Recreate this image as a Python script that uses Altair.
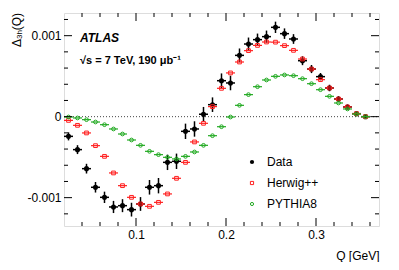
import altair as alt
import pandas as pd

# ---- data (y in units of 1e-3) ----
q = [0.025, 0.035, 0.045, 0.055, 0.065, 0.075, 0.085, 0.095, 0.105, 0.115,
     0.125, 0.135, 0.145, 0.155, 0.165, 0.175, 0.185, 0.195, 0.205, 0.215,
     0.225, 0.235, 0.245, 0.255, 0.265, 0.275, 0.285, 0.295, 0.305, 0.315,
     0.325, 0.335, 0.345, 0.355]
data_y = [-0.243, -0.407, -0.642, -0.872, -0.996, -1.115, -1.099, -1.148, -1.078, -0.872,
          -0.852, -0.564, -0.551, -0.181, -0.152, 0.030, 0.148, 0.444, 0.416, 0.757,
          0.897, 0.951, 0.988, 1.103, 1.025, 0.959, 0.691, 0.588, 0.494, 0.354,
          0.218, 0.120, 0.037, 0.000]
data_err = [0.050, 0.055, 0.060, 0.065, 0.070, 0.075, 0.080, 0.085, 0.085, 0.090,
            0.095, 0.095, 0.095, 0.095, 0.095, 0.090, 0.090, 0.090, 0.090, 0.085,
            0.080, 0.075, 0.075, 0.070, 0.065, 0.060, 0.055, 0.050, 0.045, 0.040,
            0.035, 0.030, 0.025, 0.020]
herwig_y = [-0.046, -0.107, -0.201, -0.358, -0.490, -0.695, -0.852, -0.996, -1.078, -1.107,
            -1.058, -0.954, -0.761, -0.564, -0.312, -0.082, 0.124, 0.350, 0.540, 0.675,
            0.815, 0.880, 0.922, 0.920, 0.877, 0.819, 0.712, 0.588, 0.457, 0.354,
            0.218, 0.120, 0.037, 0.000]
pythia_y = [-0.004, -0.016, -0.037, -0.066, -0.099, -0.152, -0.214, -0.288, -0.354, -0.428,
            -0.469, -0.502, -0.522, -0.490, -0.436, -0.354, -0.235, -0.124, -0.004, 0.140,
            0.272, 0.370, 0.453, 0.498, 0.515, 0.506, 0.469, 0.407, 0.333, 0.251,
            0.169, 0.095, 0.033, 0.000]
half_bin = 0.005

x_major = [0.1, 0.2, 0.3]
x_minor = [0.04, 0.06, 0.08, 0.12, 0.14, 0.16, 0.18, 0.22, 0.24, 0.26, 0.28, 0.32, 0.34, 0.36]
y_major = [-0.001, 0.0, 0.001]
y_minor = [-0.0012, -0.0008, -0.0006, -0.0004, -0.0002, 0.0002, 0.0004, 0.0006, 0.0008, 0.0012]

legend_labels = ["Data", "Herwig++", "PYTHIA8"]

# ---- build table ----
S = 1e-3
df = pd.DataFrame({
    "q": q,
    "lo": [v - half_bin for v in q],
    "hi": [v + half_bin for v in q],
    "d": [v * S for v in data_y],
    "dlo": [(v - e) * S for v, e in zip(data_y, data_err)],
    "dhi": [(v + e) * S for v, e in zip(data_y, data_err)],
    "h": [v * S for v in herwig_y],
    "p": [v * S for v in pythia_y],
})

W, H = 315, 213
FONT = "Liberation Sans"
RED = "#ff2020"
GREEN = "#22aa22"

xs = alt.Scale(domain=[0.02, 0.37], nice=False, zero=False)
ys = alt.Scale(domain=[-0.00135, 0.00128], nice=False, zero=False)

xaxis = alt.Axis(values=x_major, format=".1f", ticks=False, domain=False, grid=False,
                 labelFontSize=12, labelPadding=3, labelFont=FONT, labelColor="black",
                 title="Q [GeV]", titleAnchor="end", titleFontWeight="normal",
                 titleFontSize=12, titleFont=FONT, titlePadding=10, titleColor="black")
yaxis = alt.Axis(values=y_major,
                 labelExpr="datum.value > 0.0005 ? '0.001' : (datum.value < -0.0005 ? '-0.001' : '0')",
                 ticks=False, domain=False, grid=False, labelFontSize=12, labelPadding=3,
                 labelFont=FONT, labelColor="black", title=None)

base = alt.Chart(df)

# zero line
zero = alt.Chart(pd.DataFrame({"z": [0.0]})).mark_rule(
    color="#444", strokeDash=[1, 2], strokeWidth=1
).encode(y=alt.Y("z:Q", scale=ys, axis=yaxis), x=alt.value(0), x2=alt.value(W))

# data
d_v = base.mark_rule(color="black", strokeWidth=1.5).encode(
    x=alt.X("q:Q", scale=xs, axis=xaxis), y=alt.Y("dlo:Q", scale=ys, axis=yaxis), y2="dhi:Q")
d_h = base.mark_rule(color="black", strokeWidth=1.5).encode(
    x=alt.X("lo:Q", scale=xs), x2="hi:Q", y=alt.Y("d:Q", scale=ys))
d_p = base.mark_circle(color="black", size=26, opacity=1).encode(
    x=alt.X("q:Q", scale=xs), y=alt.Y("d:Q", scale=ys))

# herwig
h_h = base.mark_rule(color=RED, strokeWidth=1.2).encode(
    x=alt.X("lo:Q", scale=xs), x2="hi:Q", y=alt.Y("h:Q", scale=ys))
h_p = base.mark_point(shape="square", filled=False, color=RED, size=14, strokeWidth=1, opacity=1).encode(
    x=alt.X("q:Q", scale=xs), y=alt.Y("h:Q", scale=ys))

# pythia
p_h = base.mark_rule(color=GREEN, strokeWidth=1.2).encode(
    x=alt.X("lo:Q", scale=xs), x2="hi:Q", y=alt.Y("p:Q", scale=ys))
p_p = base.mark_point(shape="circle", filled=False, color=GREEN, size=14, strokeWidth=1, opacity=1).encode(
    x=alt.X("q:Q", scale=xs), y=alt.Y("p:Q", scale=ys))

# inward ticks on all four sides
def xticks(vals, length):
    t = alt.Chart(pd.DataFrame({"v": vals}))
    bot = t.mark_rule(color="black", strokeWidth=1).encode(
        x=alt.X("v:Q", scale=xs), y=alt.value(H), y2=alt.value(H - length))
    top = t.mark_rule(color="black", strokeWidth=1).encode(
        x=alt.X("v:Q", scale=xs), y=alt.value(0), y2=alt.value(length))
    return [bot, top]

def yticks(vals, length):
    t = alt.Chart(pd.DataFrame({"v": vals}))
    left = t.mark_rule(color="black", strokeWidth=1).encode(
        y=alt.Y("v:Q", scale=ys), x=alt.value(0), x2=alt.value(length))
    right = t.mark_rule(color="black", strokeWidth=1).encode(
        y=alt.Y("v:Q", scale=ys), x=alt.value(W), x2=alt.value(W - length))
    return [left, right]

ticks = xticks(x_major, 8) + xticks(x_minor, 4) + yticks(y_major, 8) + yticks(y_minor, 4)

# annotations
def txt(s, x, y, size=12, weight="normal", style="normal", align="left", angle=0, color="black"):
    return alt.Chart(pd.DataFrame({"t": [s]})).mark_text(
        align=align, baseline="middle", fontSize=size, fontWeight=weight, fontStyle=style,
        font=FONT, angle=angle, color=color
    ).encode(text="t:N", x=alt.value(x), y=alt.value(y))

atlas = txt("ATLAS", 16, 25, size=12, weight="bold", style="italic")
energy = txt("\u221as = 7 TeV, 190 \u03bcb\u207b\u00b9", 16, 48, size=11, weight="bold")

ytitle = [
    txt("(Q)", -47, 0, size=12, align="right", angle=270),
    txt("3h", -44, 17, size=8, align="right", angle=270),
    txt("\u0394", -47, 26, size=12, align="right", angle=270),
]

# legend
leg = []
leg_y = [149, 170, 191]
leg.append(alt.Chart(pd.DataFrame({"a": [0]})).mark_circle(color="black", size=18, opacity=1).encode(
    x=alt.value(188), y=alt.value(leg_y[0])))
leg.append(alt.Chart(pd.DataFrame({"a": [0]})).mark_point(shape="square", filled=False, color=RED, size=10, strokeWidth=1, opacity=1).encode(
    x=alt.value(188), y=alt.value(leg_y[1])))
leg.append(alt.Chart(pd.DataFrame({"a": [0]})).mark_point(shape="circle", filled=False, color=GREEN, size=10, strokeWidth=1, opacity=1).encode(
    x=alt.value(188), y=alt.value(leg_y[2])))
for lab, yy in zip(legend_labels, leg_y):
    leg.append(txt(lab, 203, yy, size=12))

chart = alt.layer(
    zero, d_v, d_h, d_p, h_h, h_p, p_h, p_p, *ticks, atlas, energy, *ytitle, *leg
).properties(
    width=W, height=H,
    autosize=alt.AutoSizeParams(type="none"),
    padding={"left": 56, "top": 5, "right": 12, "bottom": 36},
).configure_view(
    stroke="#555", strokeWidth=1.5
).configure(background="white")

chart.save("out.html", embed_options={"renderer": "svg", "actions": False})
